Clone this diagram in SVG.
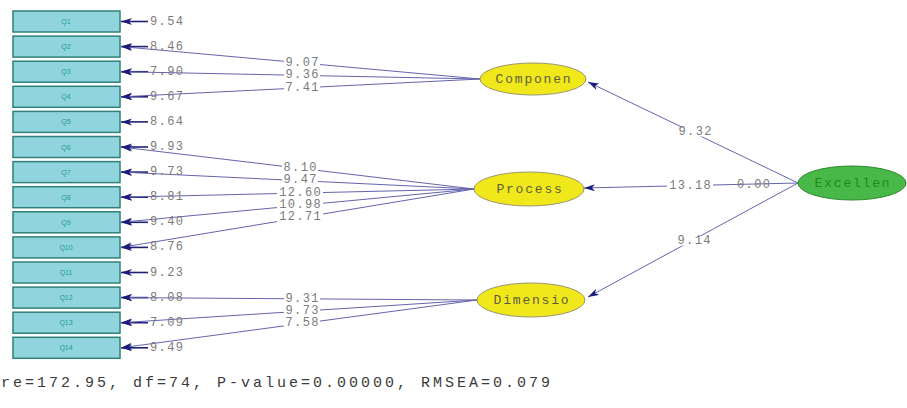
<svg xmlns="http://www.w3.org/2000/svg" width="907" height="408" viewBox="0 0 907 408">
<style>
.box{fill:#90d5de;stroke:#2e8078;stroke-width:1.5}
.bt{font-family:"Liberation Sans",Arial,sans-serif;font-size:7px;fill:#1f9a94;text-anchor:middle;dominant-baseline:central}
.num{font-family:"Liberation Mono","Courier New",monospace;font-size:12px;fill:#7a7a7a;letter-spacing:1.4px;dominant-baseline:central}
.mid{text-anchor:middle}
.gap{fill:#fff}
.ln{stroke:#6464ac;stroke-width:1;fill:none}
.err{stroke:#20207a;stroke-width:1.6;fill:none}
.lat{fill:#f1e81c;stroke:#9a9670;stroke-width:1}
.lt{font-family:"Liberation Mono","Courier New",monospace;font-size:13px;fill:#5d5d3c;letter-spacing:1.8px;text-anchor:middle;dominant-baseline:central}
.ex{fill:#48b948;stroke:#2f8a2f;stroke-width:1}
.et{font-family:"Liberation Mono","Courier New",monospace;font-size:13px;fill:#1c8a1c;letter-spacing:1.8px;text-anchor:middle;dominant-baseline:central}
.foot{font-family:"Liberation Mono","Courier New",monospace;font-size:15px;fill:#3a3a3a;letter-spacing:3px}
</style>
<defs>
<marker id="ah" markerUnits="userSpaceOnUse" markerWidth="12" markerHeight="8" refX="11" refY="4" orient="auto">
<path d="M0,0.5 L11,4 L0,7.5 L3,4 z" fill="#1c1c7a"/>
</marker>
</defs>
<g id="connectors">
<line class="err" x1="148" y1="21.5" x2="121" y2="21.5" marker-end="url(#ah)"/>
<line class="err" x1="148" y1="46.6" x2="121" y2="46.6" marker-end="url(#ah)"/>
<line class="err" x1="148" y1="71.7" x2="121" y2="71.7" marker-end="url(#ah)"/>
<line class="err" x1="148" y1="96.8" x2="121" y2="96.8" marker-end="url(#ah)"/>
<line class="err" x1="148" y1="121.9" x2="121" y2="121.9" marker-end="url(#ah)"/>
<line class="err" x1="148" y1="147" x2="121" y2="147" marker-end="url(#ah)"/>
<line class="err" x1="148" y1="172.1" x2="121" y2="172.1" marker-end="url(#ah)"/>
<line class="err" x1="148" y1="197.2" x2="121" y2="197.2" marker-end="url(#ah)"/>
<line class="err" x1="148" y1="222.3" x2="121" y2="222.3" marker-end="url(#ah)"/>
<line class="err" x1="148" y1="247.4" x2="121" y2="247.4" marker-end="url(#ah)"/>
<line class="err" x1="148" y1="272.5" x2="121" y2="272.5" marker-end="url(#ah)"/>
<line class="err" x1="148" y1="297.6" x2="121" y2="297.6" marker-end="url(#ah)"/>
<line class="err" x1="148" y1="322.7" x2="121" y2="322.7" marker-end="url(#ah)"/>
<line class="err" x1="148" y1="347.8" x2="121" y2="347.8" marker-end="url(#ah)"/>
<line class="ln" x1="480" y1="79" x2="121" y2="46.6" marker-end="url(#ah)"/>
<line class="ln" x1="480" y1="79" x2="121" y2="71.7" marker-end="url(#ah)"/>
<line class="ln" x1="480" y1="79" x2="121" y2="96.8" marker-end="url(#ah)"/>
<line class="ln" x1="474" y1="189" x2="121" y2="147" marker-end="url(#ah)"/>
<line class="ln" x1="474" y1="189" x2="121" y2="172.1" marker-end="url(#ah)"/>
<line class="ln" x1="474" y1="189" x2="121" y2="197.2" marker-end="url(#ah)"/>
<line class="ln" x1="474" y1="189" x2="121" y2="222.3" marker-end="url(#ah)"/>
<line class="ln" x1="474" y1="189" x2="121" y2="247.4" marker-end="url(#ah)"/>
<line class="ln" x1="477" y1="300" x2="121" y2="297.6" marker-end="url(#ah)"/>
<line class="ln" x1="477" y1="300" x2="121" y2="322.7" marker-end="url(#ah)"/>
<line class="ln" x1="477" y1="300" x2="121" y2="347.8" marker-end="url(#ah)"/>
<line class="ln" x1="798" y1="183" x2="588" y2="82" marker-end="url(#ah)"/>
<line class="ln" x1="798" y1="183" x2="584" y2="188" marker-end="url(#ah)"/>
<line class="ln" x1="798" y1="183" x2="588" y2="297" marker-end="url(#ah)"/>
<rect class="gap" x="284" y="58" width="36" height="9"/>
<rect class="gap" x="284" y="70.6" width="36" height="9"/>
<rect class="gap" x="284" y="83.1" width="36" height="9"/>
<rect class="gap" x="282" y="163.5" width="36" height="9"/>
<rect class="gap" x="282" y="175.8" width="36" height="9"/>
<rect class="gap" x="277" y="188.2" width="46" height="9"/>
<rect class="gap" x="277" y="200.5" width="46" height="9"/>
<rect class="gap" x="277" y="212.9" width="46" height="9"/>
<rect class="gap" x="284" y="294.3" width="36" height="9"/>
<rect class="gap" x="284" y="306.6" width="36" height="9"/>
<rect class="gap" x="284" y="318.9" width="36" height="9"/>
<rect class="gap" x="677" y="127.5" width="36" height="9"/>
<rect class="gap" x="667" y="181.5" width="46" height="9"/>
<rect class="gap" x="676" y="236.5" width="36" height="9"/>
<text class="num" x="150" y="21.5">9.54</text>
<text class="num" x="150" y="46.6">8.46</text>
<text class="num" x="150" y="71.7">7.90</text>
<text class="num" x="150" y="96.8">9.67</text>
<text class="num" x="150" y="121.9">8.64</text>
<text class="num" x="150" y="147">9.93</text>
<text class="num" x="150" y="172.1">9.73</text>
<text class="num" x="150" y="197.2">8.81</text>
<text class="num" x="150" y="222.3">9.40</text>
<text class="num" x="150" y="247.4">8.76</text>
<text class="num" x="150" y="272.5">9.23</text>
<text class="num" x="150" y="297.6">8.08</text>
<text class="num" x="150" y="322.7">7.09</text>
<text class="num" x="150" y="347.8">9.49</text>
<text class="num mid" x="302.7" y="62.6">9.07</text>
<text class="num mid" x="302.7" y="75.1">9.36</text>
<text class="num mid" x="302.7" y="87.6">7.41</text>
<text class="num mid" x="300.7" y="168">8.10</text>
<text class="num mid" x="300.7" y="180.3">9.47</text>
<text class="num mid" x="300.7" y="192.7">12.60</text>
<text class="num mid" x="300.7" y="205">10.98</text>
<text class="num mid" x="300.7" y="217.4">12.71</text>
<text class="num mid" x="302.7" y="298.8">9.31</text>
<text class="num mid" x="302.7" y="311.1">9.73</text>
<text class="num mid" x="302.7" y="323.4">7.58</text>
<text class="num mid" x="695.7" y="132">9.32</text>
<text class="num mid" x="690.7" y="186">13.18</text>
<text class="num" x="737" y="184.5">0.00</text>
<text class="num mid" x="694.7" y="241">9.14</text>
</g>
<g id="Q1"><rect class="box" x="13" y="11" width="107" height="21"/><text class="bt" x="66" y="21.5">Q1</text></g>
<g id="Q2"><rect class="box" x="13" y="36.1" width="107" height="21"/><text class="bt" x="66" y="46.6">Q2</text></g>
<g id="Q3"><rect class="box" x="13" y="61.2" width="107" height="21"/><text class="bt" x="66" y="71.7">Q3</text></g>
<g id="Q4"><rect class="box" x="13" y="86.3" width="107" height="21"/><text class="bt" x="66" y="96.8">Q4</text></g>
<g id="Q5"><rect class="box" x="13" y="111.4" width="107" height="21"/><text class="bt" x="66" y="121.9">Q5</text></g>
<g id="Q6"><rect class="box" x="13" y="136.5" width="107" height="21"/><text class="bt" x="66" y="147">Q6</text></g>
<g id="Q7"><rect class="box" x="13" y="161.6" width="107" height="21"/><text class="bt" x="66" y="172.1">Q7</text></g>
<g id="Q8"><rect class="box" x="13" y="186.7" width="107" height="21"/><text class="bt" x="66" y="197.2">Q8</text></g>
<g id="Q9"><rect class="box" x="13" y="211.8" width="107" height="21"/><text class="bt" x="66" y="222.3">Q9</text></g>
<g id="Q10"><rect class="box" x="13" y="236.9" width="107" height="21"/><text class="bt" x="66" y="247.4">Q10</text></g>
<g id="Q11"><rect class="box" x="13" y="262" width="107" height="21"/><text class="bt" x="66" y="272.5">Q11</text></g>
<g id="Q12"><rect class="box" x="13" y="287.1" width="107" height="21"/><text class="bt" x="66" y="297.6">Q12</text></g>
<g id="Q13"><rect class="box" x="13" y="312.2" width="107" height="21"/><text class="bt" x="66" y="322.7">Q13</text></g>
<g id="Q14"><rect class="box" x="13" y="337.3" width="107" height="21"/><text class="bt" x="66" y="347.8">Q14</text></g>
<g id="Componen"><ellipse class="lat" cx="533" cy="79" rx="53" ry="16"/><text class="lt" x="534" y="79">Componen</text></g>
<g id="Process"><ellipse class="lat" cx="529" cy="189" rx="55" ry="17"/><text class="lt" x="530" y="189">Process</text></g>
<g id="Dimensio"><ellipse class="lat" cx="531" cy="300" rx="54" ry="17"/><text class="lt" x="532" y="300">Dimensio</text></g>
<g id="Excellen"><ellipse class="ex" cx="852" cy="183" rx="54" ry="17"/><text class="et" x="853" y="183">Excellen</text></g>
<text class="foot" x="1" y="387">re=172.95,  df=74,  P-value=0.00000,  RMSEA=0.079</text>
</svg>
